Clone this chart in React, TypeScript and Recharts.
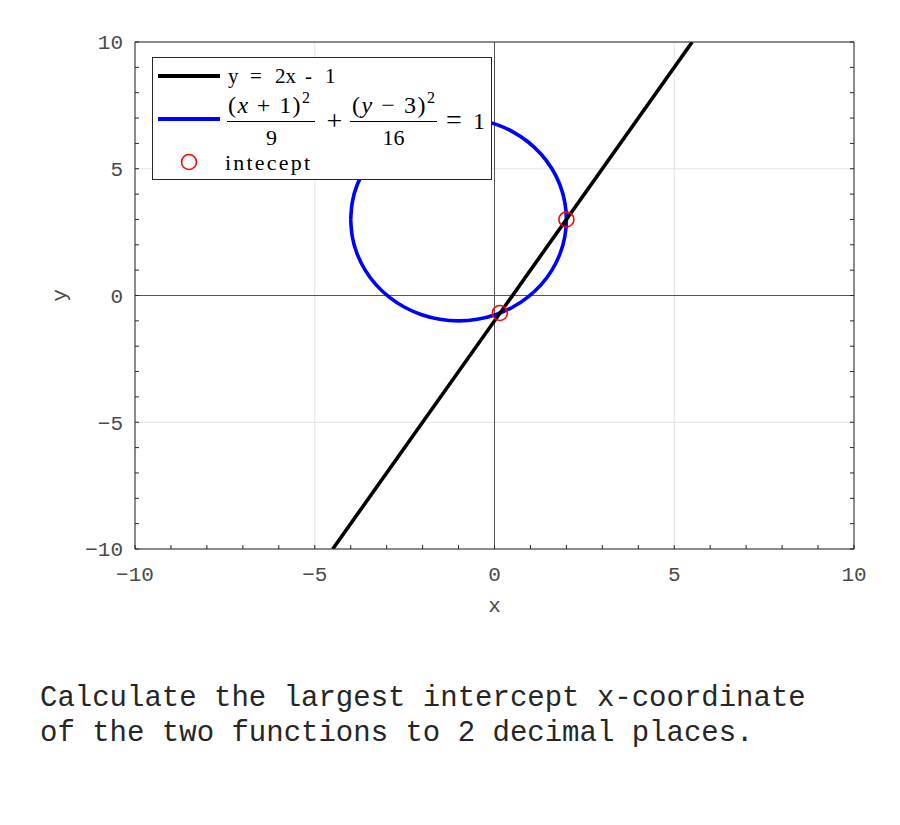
import { ComposedChart, Line, Scatter, XAxis, YAxis, CartesianGrid, ReferenceLine } from 'recharts'

// y = 2x - 1, end points where it leaves the box
const lineX = [-4.5, 5.5]
const lineY = [-10, 10]

// (x+1)^2/9 + (y-3)^2/16 = 1
const ellipseX = [
  -4, -3.954, -3.819, -3.598, -3.298, -2.928, -2.5, -2.026, -1.521, -1,
  -0.479, 0.026, 0.5, 0.928, 1.298, 1.598, 1.819, 1.954, 2,
  1.954, 1.819, 1.598, 1.298, 0.928, 0.5, 0.026, -0.479, -1,
  -1.521, -2.026, -2.5, -2.928, -3.298, -3.598, -3.819, -3.954, -4,
]
const ellipseY = [
  3, 2.305, 1.632, 1, 0.429, -0.064, -0.464, -0.759, -0.939, -1,
  -0.939, -0.759, -0.464, -0.064, 0.429, 1, 1.632, 2.305, 3,
  3.695, 4.368, 5, 5.571, 6.064, 6.464, 6.759, 6.939, 7,
  6.939, 6.759, 6.464, 6.064, 5.571, 5, 4.368, 3.695, 3,
]

const interceptX = [0.15, 2]
const interceptY = [-0.69, 3]

const majorTicks = [-10, -5, 0, 5, 10]
const minorTicks = [-10, -9, -8, -7, -6, -5, -4, -3, -2, -1, 0, 1, 2, 3, 4, 5, 6, 7, 8, 9, 10]

const lineData = lineX.map((x, i) => ({ x, y: lineY[i] }))
const ellipseData = ellipseX.map((x, i) => ({ x, y: ellipseY[i] }))
const interceptData = interceptX.map((x, i) => ({ x, y: interceptY[i] }))

const mono = '"Liberation Mono", monospace'
const serif = '"Liberation Serif", serif'
const frame = '#262626'
const tickStyle = { fontFamily: mono, fontSize: 21, fill: '#4a4a4a' }
// every integer gets a tick mark, only the majors get a label
const fmt = (v: number) => (majorTicks.includes(v) ? String(v).replace('-', '\u2212') : '')

const ringShape = (p: any) => (
  <circle cx={p.cx} cy={p.cy} r={7.5} fill="none" stroke="#ff0000" strokeWidth={1.6} />
)
const blankTick = () => <g />

function LegendBox() {
  return (
    <svg width={341} height={124} style={{ display: 'block' }}>
      <rect x={0.5} y={0.5} width={339} height={122} fill="#fff" stroke={frame} />
      <line x1={6} x2={68} y1={19} y2={19} stroke="#000" strokeWidth={4} />
      <text y={26} fontFamily={serif} fontSize={21}>
        <tspan x={76}>y</tspan>
        <tspan x={98}>=</tspan>
        <tspan x={123}>2x</tspan>
        <tspan x={153}>-</tspan>
        <tspan x={173}>1</tspan>
      </text>
      <line x1={6} x2={68} y1={62} y2={62} stroke="#0000ff" strokeWidth={4} />
      <g fontFamily={serif} fontSize={24}>
        <text x={76} y={56} textLength={82} lengthAdjust="spacing">
          (<tspan fontStyle="italic">x</tspan> + 1)<tspan dy={-10} fontSize={16}>2</tspan>
        </text>
        <line x1={75} x2={163} y1={64.5} y2={64.5} stroke="#000" strokeWidth={1} />
        <text x={119.5} y={88} fontSize={22} textAnchor="middle">9</text>
        <text x={182.5} y={73} fontSize={28} textAnchor="middle">+</text>
        <text x={200} y={56} textLength={83} lengthAdjust="spacing">
          (<tspan fontStyle="italic">y</tspan> − 3)<tspan dy={-10} fontSize={16}>2</tspan>
        </text>
        <line x1={198} x2={285} y1={64.5} y2={64.5} stroke="#000" strokeWidth={1} />
        <text x={241.5} y={88} fontSize={22} textAnchor="middle">16</text>
        <text y={72}>
          <tspan x={294} fontSize={28}>=</tspan>
          <tspan x={321}>1</tspan>
        </text>
      </g>
      <circle cx={37} cy={105} r={7.5} fill="none" stroke="#ff0000" strokeWidth={1.6} />
      <text x={73} y={113} fontFamily={serif} fontSize={22} textLength={85} lengthAdjust="spacing">
        intecept
      </text>
    </svg>
  )
}

export default function App() {
  return (
    <div style={{ position: 'absolute', left: 0, top: 0, width: 900, height: 825, background: '#fff' }}>
      <ComposedChart width={900} height={640} margin={{ top: 42, right: 46, left: 75, bottom: 61 }}>
        <CartesianGrid xAxisId="xl" yAxisId="yl" stroke="#e3e3e3" verticalValues={majorTicks} horizontalValues={majorTicks} />
        <XAxis
          xAxisId="xl"
          dataKey="x"
          type="number"
          domain={[-10, 10]}
          allowDataOverflow
          ticks={minorTicks}
          interval={0}
          tickFormatter={fmt}
          height={30}
          tickSize={-4}
          tickMargin={21}
          tickLine={{ stroke: frame }}
          axisLine={{ stroke: frame }}
          tick={tickStyle}
          label={{ value: 'x', position: 'bottom', offset: 18, style: { fontFamily: mono, fontSize: 21, fill: '#4a4a4a' } }}
        />
        <XAxis xAxisId="xt" type="number" orientation="top" domain={[-10, 10]} allowDataOverflow ticks={minorTicks} interval={0} mirror height={10} tick={blankTick} tickSize={4} tickLine={{ stroke: frame }} axisLine={{ stroke: frame }} />
        <YAxis
          yAxisId="yl"
          dataKey="y"
          type="number"
          domain={[-10, 10]}
          allowDataOverflow
          ticks={minorTicks}
          interval={0}
          tickFormatter={fmt}
          width={60}
          tickSize={-4}
          tickMargin={16}
          tickLine={{ stroke: frame }}
          axisLine={{ stroke: frame }}
          tick={tickStyle}
          label={{ value: 'y', angle: -90, position: 'insideLeft', offset: -16, style: { fontFamily: mono, fontSize: 21, fill: '#4a4a4a', textAnchor: 'middle' } }}
        />
        <YAxis yAxisId="yr" type="number" orientation="right" domain={[-10, 10]} allowDataOverflow ticks={minorTicks} interval={0} mirror width={10} tick={blankTick} tickSize={4} tickLine={{ stroke: frame }} axisLine={{ stroke: frame }} />
        <ReferenceLine xAxisId="xl" yAxisId="yl" x={0} stroke="#555" strokeWidth={1} />
        <ReferenceLine xAxisId="xl" yAxisId="yl" y={0} stroke="#555" strokeWidth={1} />
        <Line xAxisId="xl" yAxisId="yl" data={ellipseData} dataKey="y" type="natural" stroke="#0000ff" strokeWidth={3.6} dot={false} activeDot={false} isAnimationActive={false} />
        <Line xAxisId="xl" yAxisId="yl" data={lineData} dataKey="y" type="linear" stroke="#000" strokeWidth={3.6} dot={false} activeDot={false} isAnimationActive={false} />
        <Scatter xAxisId="xl" yAxisId="yl" data={interceptData} dataKey="y" shape={ringShape} isAnimationActive={false} />
      </ComposedChart>
      <div style={{ position: 'absolute', left: 152, top: 57 }}>
        <LegendBox />
      </div>
      <div
        style={{
          position: 'absolute',
          left: 40,
          top: 681,
          fontFamily: mono,
          fontSize: 29,
          lineHeight: '35px',
          color: '#262626',
          whiteSpace: 'pre',
        }}
      >
        {'Calculate the largest intercept x-coordinate\nof the two functions to 2 decimal places.'}
      </div>
    </div>
  )
}
